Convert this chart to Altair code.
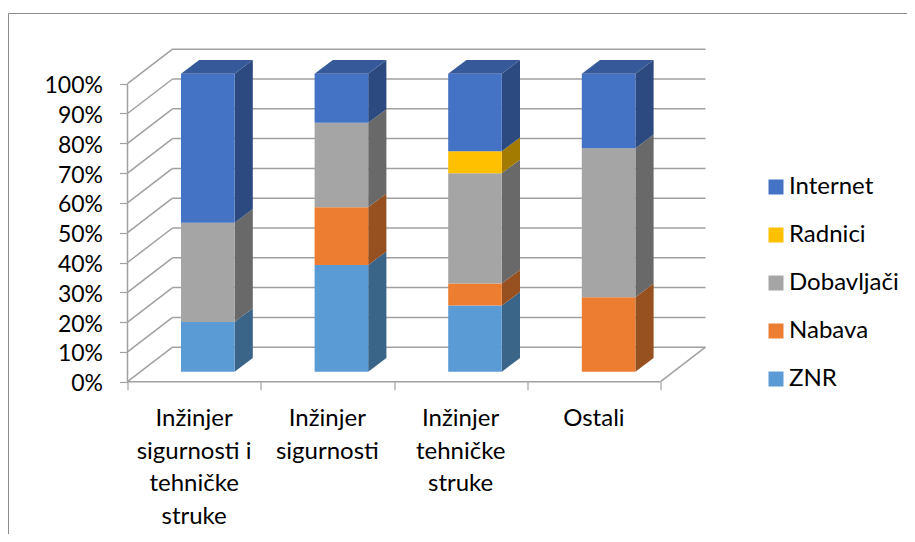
import altair as alt
import pandas as pd

categories = ["Inžinjer\nsigurnosti i\ntehničke\nstruke", "Inžinjer\nsigurnosti", "Inžinjer\ntehničke\nstruke", "Ostali"]
series = ["Internet", "Radnici", "Dobavljači", "Nabava", "ZNR"]
znr = [16.7, 35.8, 22.2, 0]
nabava = [0, 19.4, 7.4, 25]
dobavljaci = [33.3, 28.3, 37.0, 50]
radnici = [0, 0, 7.4, 0]
internet = [50, 16.5, 26.0, 25]
y_ticks = list(range(0, 101, 10))
x_ticks = [0, 1, 2, 3, 4]

front = ["#4472C4", "#FFC000", "#A5A5A5", "#ED7D31", "#5B9BD5"]
side = ["#2C4A7F", "#A37B00", "#696969", "#975020", "#3A6488"]
top = ["#355999"]

FONT = "Lato"
FS = 24
GRID = "#A0A0A0"
UX, UY = 133.25, 2.98
W, H = 578.5, 332.7
WDX, WDY = 45 / UX, 34.5 / UY      # depth of walls
BDX, BDY = 18.2 / UX, 13.6 / UY    # depth of bars
BOY = 10 / UY                      # bar offset from the front edge
BX0, BSTEP, BW = 53.5 / UX, 133.6 / UX, 53.6 / UX   # first bar left edge, bar spacing, bar width

xs = alt.Scale(domain=[0, W / UX], nice=False, zero=False)
ys = alt.Scale(domain=[0, H / UY], nice=False, zero=False)
xa = alt.Axis(values=x_ticks, labels=False, domain=False, grid=False, tickSize=8,
              tickColor=GRID, tickWidth=1.2, title=None)
ya = alt.Axis(values=y_ticks, labelExpr="datum.value + '%'", domain=False, grid=False, tickSize=8,
              tickColor=GRID, tickWidth=1.2, labelFont=FONT, labelFontSize=23, labelColor="#000000",
              labelPadding=17, labelOffset=2, labelFontWeight="normal", title=None)

rules = []
for v in y_ticks:
    rules.append(dict(x=WDX, x2=4 + WDX, y=v + WDY, y2=v + WDY))
    rules.append(dict(x=0, x2=WDX, y=v, y2=v + WDY))
rules.append(dict(x=0, x2=0, y=0, y2=100))
rules.append(dict(x=0, x2=4, y=0, y2=0))
rules.append(dict(x=4, x2=4 + WDX, y=0, y2=WDY))

rects, sides, tops = [], [], []
for i in range(4):
    lo = BOY
    xl = BX0 + i * BSTEP
    xr = xl + BW
    for name, arr in [("ZNR", znr), ("Nabava", nabava), ("Dobavljači", dobavljaci), ("Radnici", radnici), ("Internet", internet)]:
        v = arr[i]
        if v <= 0:
            continue
        hi = lo + v
        rects.append(dict(x=xl, x2=xr, y=lo, y2=hi, s=name))
        sid = f"{i}-{name}"
        sides.append(dict(x=xr, y=lo, y2=hi, s=name, id=sid))
        sides.append(dict(x=xr + BDX, y=lo + BDY, y2=hi + BDY, s=name, id=sid))
        lo = hi
    tops.append(dict(x=xl, x2=xr, y=lo, id=i))
    tops.append(dict(x=xl + BDX, x2=xr + BDX, y=lo + BDY, id=i))

labels = pd.DataFrame(dict(x=[i + 0.5 for i in range(4)], y=[-8.6] * 4, t=categories))

X = alt.X("x:Q", scale=xs, axis=xa)
Y = alt.Y("y:Q", scale=ys, axis=ya)

base_axes = alt.Chart(pd.DataFrame(rules)).mark_rule(color=GRID, strokeWidth=1.5).encode(
    x=X, x2="x2:Q", y=Y, y2="y2:Q",
)

side_layer = alt.Chart(pd.DataFrame(sides)).mark_area(orient="vertical").encode(
    x=X,
    y=alt.Y("y:Q", scale=ys, axis=ya, stack=None),
    y2="y2:Q",
    detail="id:N",
    color=alt.Color("s:N", scale=alt.Scale(domain=series, range=side), legend=None),
)

top_layer = alt.Chart(pd.DataFrame(tops)).mark_area(orient="horizontal", color=top[0]).encode(
    y=Y,
    x=alt.X("x:Q", scale=xs, axis=xa, stack=None),
    x2="x2:Q",
    detail="id:N",
)

front_layer = alt.Chart(pd.DataFrame(rects)).mark_rect().encode(
    x=X, x2="x2:Q", y=Y, y2="y2:Q",
    color=alt.Color("s:N", scale=alt.Scale(domain=series, range=front), legend=alt.Legend(
        title=None, orient="none", legendX=636.5, legendY=126, padding=0,
        symbolType="square", symbolSize=225, symbolStrokeWidth=0,
        labelFont=FONT, labelFontSize=FS, labelColor="#000000", labelOffset=1,
        rowPadding=24, labelLimit=200)),
)

text_layer = alt.Chart(labels).mark_text(
    font=FONT, fontSize=FS, lineBreak="\n", lineHeight=32.5, baseline="top", align="center", color="#000000"
).encode(x=X, y=Y, text="t:N")

frame_top = alt.Chart(pd.DataFrame({"a": [0]})).mark_rule(color="#8C8C8C", strokeWidth=1).encode(
    x=alt.value(-119), x2=alt.value(779.5), y=alt.value(-35.5))
frame_left = alt.Chart(pd.DataFrame({"a": [0]})).mark_rule(color="#8C8C8C", strokeWidth=1).encode(
    x=alt.value(-119), y=alt.value(-35.5), y2=alt.value(485))

chart = alt.layer(
    base_axes, frame_top, frame_left, side_layer, top_layer, front_layer, text_layer
).resolve_scale(color="independent").properties(
    width=W, height=H,
    autosize=alt.AutoSizeParams(type="none"),
    padding={"left": 119.5, "top": 41, "right": 201, "bottom": 152.3},
).configure_view(stroke=None)

chart.save("out.html", embed_options={"renderer": "svg", "actions": False})
